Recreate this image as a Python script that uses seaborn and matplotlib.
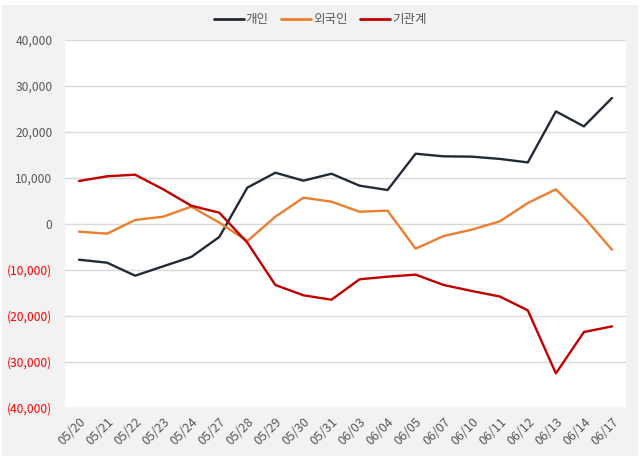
import matplotlib
matplotlib.use("Agg")
import matplotlib.pyplot as plt
import seaborn as sns
import pandas as pd
from matplotlib.ticker import FuncFormatter, MultipleLocator
from matplotlib.patches import Rectangle

dates = ["05/20", "05/21", "05/22", "05/23", "05/24", "05/27", "05/28", "05/29", "05/30", "05/31",
         "06/03", "06/04", "06/05", "06/07", "06/10", "06/11", "06/12", "06/13", "06/14", "06/17"]
individual = [-7760, -8410, -11240, -9200, -7170, -2830, 7900, 11150, 9420, 10930,
              8330, 7390, 15280, 14710, 14640, 14150, 13390, 24480, 21220, 27390]
foreign = [-1670, -2100, 870, 1590, 3770, 300, -3700, 1590, 5720, 4850,
           2670, 2900, -5360, -2610, -1230, 580, 4570, 7540, 1450, -5590]
institution = [9350, 10370, 10720, 7540, 3980, 2460, -4060, -13260, -15500, -16460,
               -12020, -11450, -11010, -13260, -14560, -15760, -18780, -32480, -23480, -22260]
series_names = ["개인", "외국인", "기관계"]
colors = ["#222a35", "#ed7d31", "#c00000"]

df = pd.concat([
    pd.DataFrame({"date": dates, "value": individual, "series": series_names[0]}),
    pd.DataFrame({"date": dates, "value": foreign, "series": series_names[1]}),
    pd.DataFrame({"date": dates, "value": institution, "series": series_names[2]}),
], ignore_index=True)

sns.set_theme(style="white")
plt.rcParams["font.family"] = ["Noto Sans CJK KR", "DejaVu Sans"]

W, H = 641, 461
fig = plt.figure(figsize=(W / 100, H / 100), dpi=100, facecolor="white")
fig.patches.append(Rectangle((2 / W, 1 - 456 / H), 636 / W, 451 / H, transform=fig.transFigure,
                             facecolor="#f2f2f2", edgecolor="none", zorder=-10))
ax = fig.add_axes([65 / W, 1 - 408 / H, (626 - 65) / W, 368 / H])
ax.set_facecolor("white")

sns.lineplot(data=df, x="date", y="value", hue="series", hue_order=series_names,
             palette=colors, linewidth=1.7, sort=False, ax=ax, legend=True)

ax.set_xlim(-0.5, len(dates) - 0.5)
ax.set_ylim(-40000, 40000)
ax.yaxis.set_major_locator(MultipleLocator(10000))
ax.yaxis.set_major_formatter(FuncFormatter(
    lambda v, p: f"({abs(int(v)):,})" if v < 0 else f"{int(v):,}"))
ax.grid(axis="y", color="#d9d9d9", linewidth=1)
ax.set_axisbelow(True)
for s in ax.spines.values():
    s.set_visible(False)
ax.set_xlabel("")
ax.set_ylabel("")
ax.tick_params(axis="both", length=0, labelcolor="#595959")
ax.tick_params(axis="y", pad=9, labelsize=8.7)
ax.tick_params(axis="x", pad=5, labelsize=9)
for lbl in ax.get_xticklabels():
    lbl.set_rotation(45)
    lbl.set_ha("right")
    lbl.set_rotation_mode("anchor")
fig.canvas.draw()
for lbl, v in zip(ax.get_yticklabels(), ax.get_yticks()):
    if v < 0:
        lbl.set_color("#ff0000")

leg = ax.legend(loc="center", bbox_to_anchor=(320 / W, 1 - 20 / H), bbox_transform=fig.transFigure,
                ncol=3, frameon=False, fontsize=9, handlelength=2.4, handletextpad=0.15,
                columnspacing=1.0, borderaxespad=0)
for t in leg.get_texts():
    t.set_color("#595959")
for l in leg.get_lines():
    l.set_linewidth(2)

fig.savefig("out.png", dpi=100, facecolor=fig.get_facecolor())
